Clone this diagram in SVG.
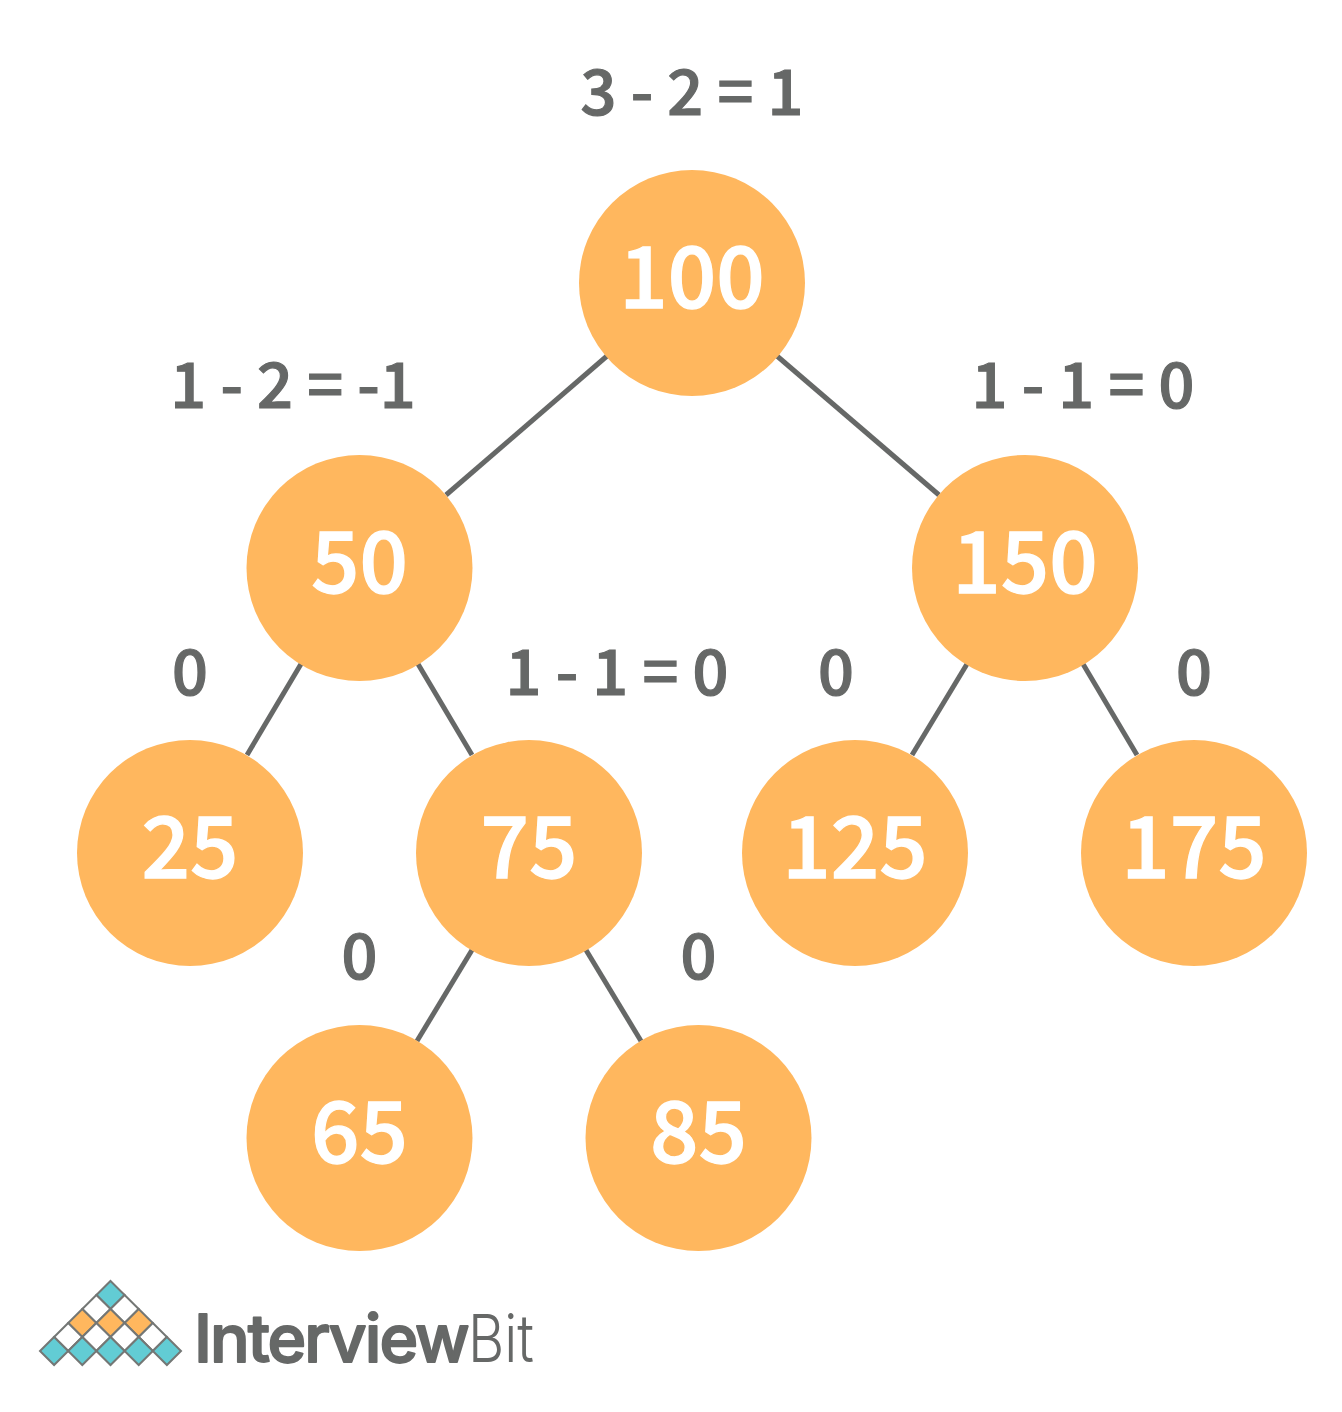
<svg xmlns="http://www.w3.org/2000/svg" width="1342" height="1412" viewBox="0 0 1342 1412">
<style>
.n{fill:#ffb75e}
.v{font-family:"Noto Sans CJK SC","Noto Sans",sans-serif;font-weight:500;font-size:85px;fill:#fff;stroke:#fff;stroke-width:1.300px;text-anchor:middle}
.l{font-family:"Noto Sans CJK SC","Noto Sans",sans-serif;font-weight:500;font-size:63px;fill:#666867;stroke:#666867;stroke-width:1.200px;text-anchor:middle}
.e{stroke:#666867;stroke-width:5;fill:none}
.t{fill:#62ccd4;stroke:#747775;stroke-width:2}
.o{fill:#ffb75e;stroke:#747775;stroke-width:2}
.w{fill:#fff;stroke:#747775;stroke-width:2}
.b{font-family:Inter,Lato,"Liberation Sans",sans-serif;font-size:66px;fill:#666867}
.b1{font-weight:500;stroke:#666867;stroke-width:1.800px;stroke-linejoin:round;letter-spacing:-2px}
.b2{font-weight:300;font-size:66px}
</style>
<defs><path id="d" d="M0-14 14.100 0 0 14-14.100 0Z"/></defs>
<rect width="1342" height="1412" fill="#fff"/>
<g id="connectors">
<line class="e" x1="607" y1="356" x2="446" y2="495"/>
<line class="e" x1="777" y1="356" x2="939" y2="495"/>
<line class="e" x1="301" y1="664" x2="247" y2="755"/>
<line class="e" x1="418" y1="664" x2="472" y2="755"/>
<line class="e" x1="967" y1="664" x2="912" y2="755"/>
<line class="e" x1="1083" y1="664" x2="1137" y2="755"/>
<line class="e" x1="472" y1="950" x2="417" y2="1041"/>
<line class="e" x1="586" y1="950" x2="641" y2="1041"/>
</g>
<g id="node-100"><circle class="n" cx="692" cy="283" r="113"/><text class="v" x="692" y="308">100</text><text class="l" x="692" y="115">3 - 2 = 1</text></g>
<g id="node-50"><circle class="n" cx="359.500" cy="568" r="113"/><text class="v" x="359.500" y="593">50</text><text class="l" x="293" y="408">1 - 2 = -1</text></g>
<g id="node-150"><circle class="n" cx="1025" cy="568" r="113"/><text class="v" x="1025" y="593">150</text><text class="l" x="1083" y="408">1 - 1 = 0</text></g>
<g id="node-25"><circle class="n" cx="190" cy="853" r="113"/><text class="v" x="190" y="878">25</text><text class="l" x="190" y="695">0</text></g>
<g id="node-75"><circle class="n" cx="529" cy="853" r="113"/><text class="v" x="529" y="878">75</text><text class="l" x="617" y="695">1 - 1 = 0</text></g>
<g id="node-125"><circle class="n" cx="855" cy="853" r="113"/><text class="v" x="855" y="878">125</text><text class="l" x="836" y="695">0</text></g>
<g id="node-175"><circle class="n" cx="1194" cy="853" r="113"/><text class="v" x="1194" y="878">175</text><text class="l" x="1194" y="695">0</text></g>
<g id="node-65"><circle class="n" cx="359.500" cy="1138" r="113"/><text class="v" x="359.500" y="1163">65</text><text class="l" x="359.500" y="979">0</text></g>
<g id="node-85"><circle class="n" cx="698.500" cy="1138" r="113"/><text class="v" x="698.500" y="1163">85</text><text class="l" x="698.500" y="979">0</text></g>
<g id="logo">
<use href="#d" class="t" x="110.500" y="1295"/>
<use href="#d" class="w" x="96.400" y="1309"/><use href="#d" class="w" x="124.600" y="1309"/>
<use href="#d" class="o" x="82.300" y="1323"/><use href="#d" class="o" x="110.500" y="1323"/><use href="#d" class="o" x="138.700" y="1323"/>
<use href="#d" class="w" x="68.200" y="1337"/><use href="#d" class="w" x="96.400" y="1337"/><use href="#d" class="w" x="124.600" y="1337"/><use href="#d" class="w" x="152.800" y="1337"/>
<use href="#d" class="t" x="54.100" y="1351"/><use href="#d" class="t" x="82.300" y="1351"/><use href="#d" class="t" x="110.500" y="1351"/><use href="#d" class="t" x="138.700" y="1351"/><use href="#d" class="t" x="166.900" y="1351"/>
<text class="b" y="1362"><tspan class="b1" x="194">Interview</tspan><tspan class="b2" x="468" textLength="66" lengthAdjust="spacingAndGlyphs">Bit</tspan></text>
</g>
</svg>
